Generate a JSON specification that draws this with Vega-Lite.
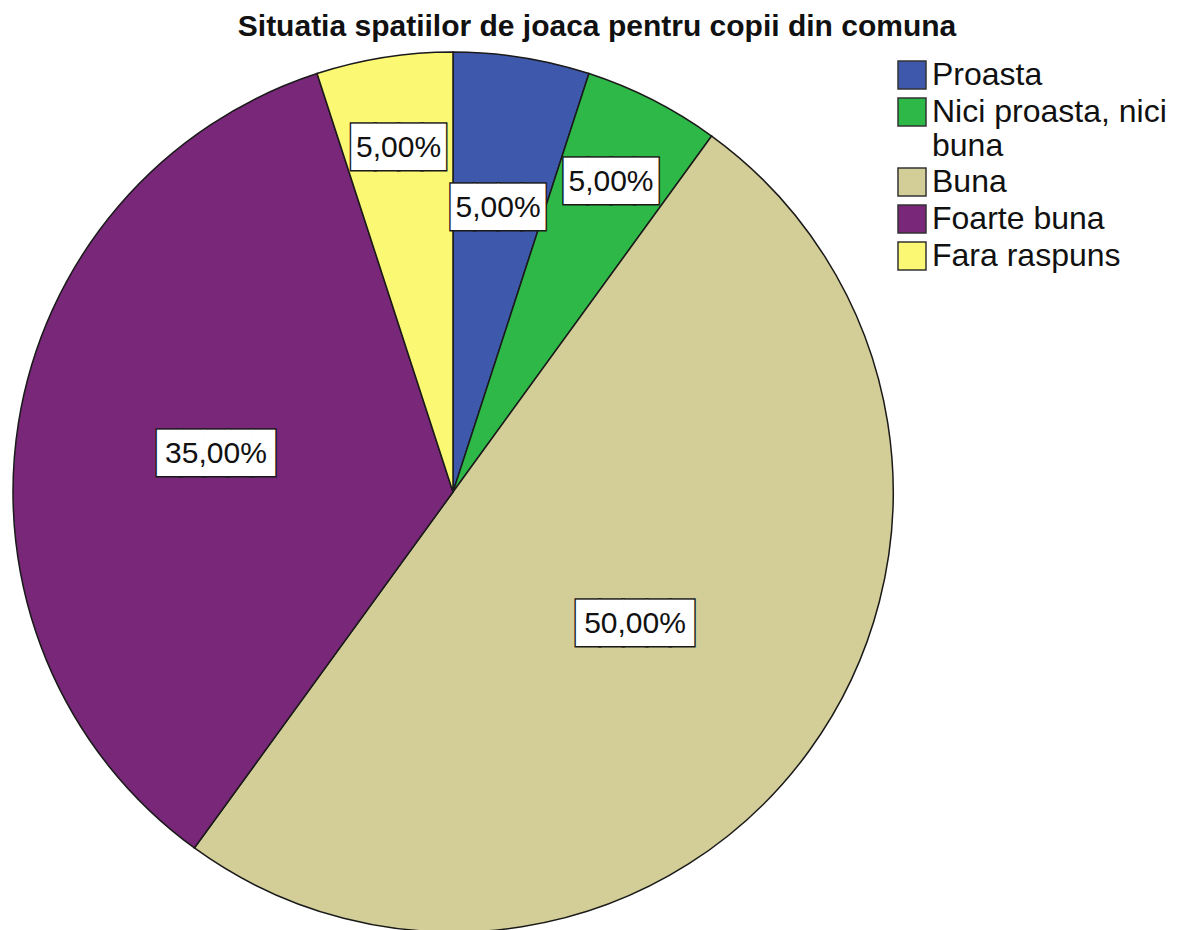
{
  "$schema": "https://vega.github.io/schema/vega-lite/v6.json",
  "width": 906,
  "height": 882,
  "padding": {"left": 0, "top": 12, "right": 0, "bottom": 0},
  "background": "white",
  "title": {
    "text": "Situatia spatiilor de joaca pentru copii din comuna",
    "font": "Liberation Sans",
    "fontSize": 30,
    "fontWeight": "bold",
    "color": "#111111",
    "anchor": "middle",
    "dx": 144,
    "offset": 7
  },
  "data": {
    "values": [
      {"cat": "Proasta", "pct": 5, "o": 1, "label": "5,00%"},
      {"cat": "Nici proasta, nici buna", "pct": 5, "o": 2, "label": "5,00%"},
      {"cat": "Buna", "pct": 50, "o": 3, "label": "50,00%"},
      {"cat": "Foarte buna", "pct": 35, "o": 4, "label": "35,00%"},
      {"cat": "Fara raspuns", "pct": 5, "o": 5, "label": "5,00%"}
    ]
  },
  "encoding": {
    "theta": {"field": "pct", "type": "quantitative", "stack": true},
    "order": {"field": "o", "type": "quantitative"}
  },
  "layer": [
    {
      "mark": {"type": "arc", "outerRadius": 440, "stroke": "#1a1a1a", "strokeWidth": 1.5},
      "encoding": {
        "color": {
          "field": "cat",
          "type": "nominal",
          "scale": {
            "domain": ["Proasta", "Nici proasta, nici buna", "Buna", "Foarte buna", "Fara raspuns"],
            "range": ["#3E58AC", "#2EB847", "#D3CE97", "#792778", "#FBF873"]
          },
          "legend": {
            "title": null,
            "orient": "none",
            "legendX": 896,
            "legendY": 8,
            "padding": 0,
            "symbolType": "square",
            "symbolSize": 784,
            "symbolStrokeColor": "#333333",
            "symbolStrokeWidth": 1.5,
            "symbolOpacity": 1,
            "labelFont": "Liberation Sans",
            "labelFontSize": 32,
            "labelColor": "#111111",
            "labelLimit": 400,
            "labelOffset": 4,
            "rowPadding": 3,
            "labelExpr": "datum.label == 'Nici proasta, nici buna' ? ['Nici proasta, nici', 'buna'] : datum.label"
          }
        }
      }
    },
    {
      "mark": {"type": "text", "font": "DejaVu Sans Mono", "fontSize": 39, "color": "white", "stroke": "#1a1a1a", "strokeWidth": 3, "baseline": "middle", "align": "center"},
      "encoding": {
        "detail": {"field": "cat", "type": "nominal"},
        "radius": {"field": "pct", "type": "quantitative", "scale": {"type": "linear", "domain": [5, 35, 50], "range": [348, 240, 225], "zero": false}},
        "text": {"condition": [{"test": "datum.o == 1", "value": ""}, {"test": "datum.pct >= 10", "value": "█████"}], "value": "████"}
      }
    },
    {
      "mark": {"type": "text", "font": "DejaVu Sans Mono", "fontSize": 39, "color": "white", "baseline": "middle", "align": "center"},
      "encoding": {
        "detail": {"field": "cat", "type": "nominal"},
        "radius": {"field": "pct", "type": "quantitative"},
        "text": {"condition": [{"test": "datum.o == 1", "value": ""}, {"test": "datum.pct >= 10", "value": "█████"}], "value": "████"}
      }
    },
    {
      "mark": {"type": "text", "font": "Liberation Sans", "fontSize": 30, "color": "#111111", "baseline": "middle", "align": "center"},
      "encoding": {
        "detail": {"field": "cat", "type": "nominal"},
        "radius": {"field": "pct", "type": "quantitative"},
        "text": {"condition": {"test": "datum.o == 1", "value": ""}, "field": "label", "type": "nominal"}
      }
    },
    {
      "mark": {"type": "text", "radius": 288, "font": "DejaVu Sans Mono", "fontSize": 39, "color": "white", "stroke": "#1a1a1a", "strokeWidth": 3, "baseline": "middle", "align": "center"},
      "encoding": {
        "detail": {"field": "cat", "type": "nominal"},
        "text": {"condition": {"test": "datum.o == 1", "value": "████"}, "value": ""}
      }
    },
    {
      "mark": {"type": "text", "radius": 288, "font": "DejaVu Sans Mono", "fontSize": 39, "color": "white", "baseline": "middle", "align": "center"},
      "encoding": {
        "detail": {"field": "cat", "type": "nominal"},
        "text": {"condition": {"test": "datum.o == 1", "value": "████"}, "value": ""}
      }
    },
    {
      "mark": {"type": "text", "radius": 288, "font": "Liberation Sans", "fontSize": 30, "color": "#111111", "baseline": "middle", "align": "center"},
      "encoding": {
        "detail": {"field": "cat", "type": "nominal"},
        "text": {"condition": {"test": "datum.o == 1", "field": "label", "type": "nominal"}, "value": ""}
      }
    }
  ]
}
